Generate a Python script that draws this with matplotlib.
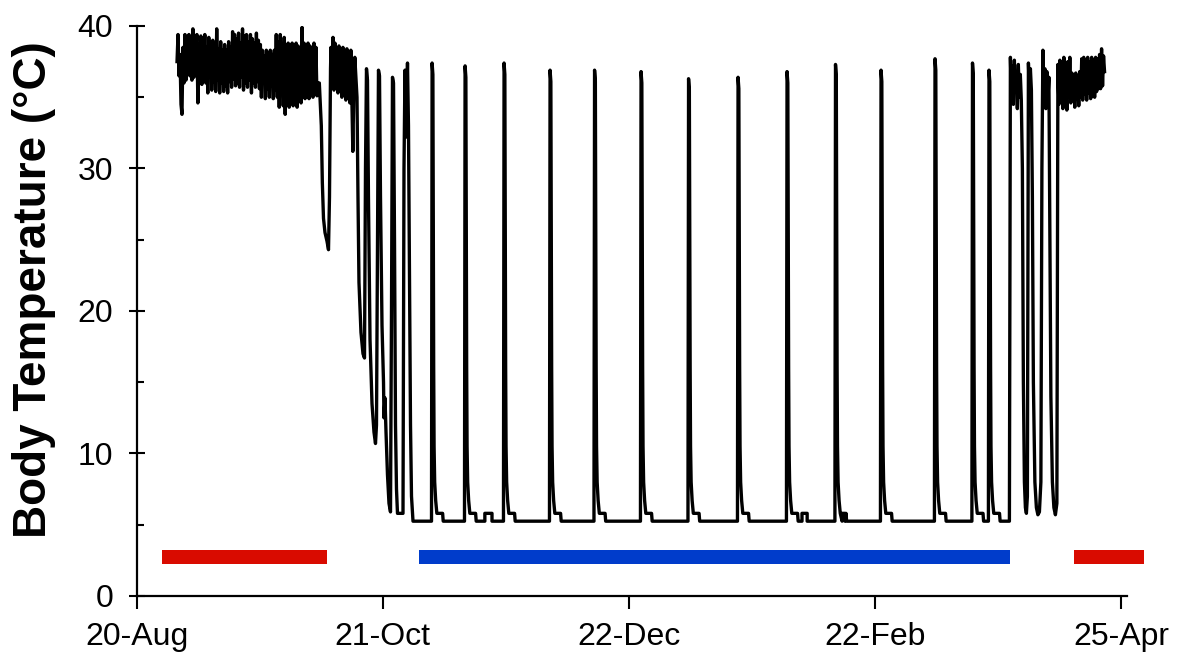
import numpy as np
import matplotlib.pyplot as plt

plt.rcParams['font.family'] = ['Liberation Sans', 'DejaVu Sans']

# x axis = days since 20-Aug
tick_days = [0, 62, 124, 186, 248]
tick_labels = ['20-Aug', '21-Oct', '22-Dec', '22-Feb', '25-Apr']

FLOOR = 5.25      # lowest body temp during torpor
STEP = 0.25       # days between readings in the noisy euthermic parts

# euthermic period, late Aug - early Oct
eu1_start = 10.15
eu1_temp = [37.5, 39.4, 36.5, 38.0, 34.5, 33.8, 38.5, 36.0, 39.4, 36.2, 38.9, 36.8,
            39.4, 36.5, 38.6, 36.2, 39.8, 36.4, 39.1, 37.0, 39.4, 34.6, 38.7, 36.3,
            39.3, 35.9, 38.8, 36.6, 39.4, 36.0, 38.5, 35.3, 39.2, 36.4, 38.9, 35.5,
            39.0, 36.1, 38.6, 35.4, 39.8, 36.2, 38.4, 35.3, 38.9, 36.0, 38.3, 35.4,
            38.7, 35.8, 38.3, 35.3, 38.9, 36.1, 38.5, 35.7, 39.6, 36.3, 39.4, 35.8,
            39.1, 36.0, 39.5, 35.7, 38.8, 36.4, 39.8, 35.5, 39.3, 36.0, 39.4, 35.7,
            38.9, 36.2, 39.4, 35.3, 39.1, 36.0, 38.8, 35.7, 39.5, 36.1, 39.0, 35.6,
            38.7, 35.0, 38.3, 36.0, 37.9, 34.9, 38.3, 35.6, 38.1, 35.0, 38.3, 35.8,
            38.0, 34.9, 38.3, 35.5, 39.4, 35.0, 38.9, 34.3, 39.4, 35.8, 38.6, 34.4,
            39.2, 33.8, 38.7, 35.6, 38.8, 34.3, 38.5, 35.7, 38.8, 34.4, 38.2, 35.2,
            38.8, 34.3, 38.6, 35.5, 38.4, 34.6, 39.9, 35.3, 38.8, 34.9, 38.5, 35.6,
            38.8, 34.9, 38.6, 35.3, 38.3, 35.0, 38.8, 35.4, 38.5, 35.1, 36.0]

# first short drop (test torpor)
dip_day = [46.0, 46.5, 46.76, 47.05, 47.43, 47.93, 48.31, 48.56, 48.82]
dip_temp = [36.0, 33.0, 29.0, 26.5, 25.5, 24.9, 24.3, 28.0, 37.0]

eu2_start = 48.94
eu2_temp = [38.5, 36.0, 39.2, 35.5, 38.8, 36.2, 38.4, 35.3, 38.6, 35.8, 38.3, 35.0,
            38.5, 35.6, 38.2, 34.8, 38.4, 35.3, 38.0, 34.6, 38.3, 35.0, 31.2, 35.5,
            37.8, 36.5]

# first deepening torpor bouts in October
early_day = [55.49, 55.74, 55.99, 56.49, 57.0, 57.38, 57.63, 57.88, 58.13, 58.38,
             58.77, 59.27, 59.77, 60.15, 60.4, 60.65, 60.9, 61.16, 61.41, 61.79,
             62.17, 62.29, 62.54, 62.8, 63.17, 63.55, 63.93, 64.18, 64.43, 64.69,
             64.94, 65.19, 65.44, 65.69, 67.08, 67.33, 67.58, 67.83, 68.21, 68.46,
             68.72, 68.97, 69.22, 69.47, 69.6]
early_temp = [35.0, 28.0, 22.0, 18.5, 17.0, 16.7, 30.0, 37.0, 36.2, 28.0,
              18.0, 13.5, 11.5, 10.7, 12.0, 25.0, 36.9, 36.5, 28.0, 19.0,
              15.0, 12.5, 13.9, 11.5, 8.5, 6.5, 5.9, 20.0, 36.4, 36.0,
              25.0, 12.0, 7.5, 5.8, 5.8, 30.0, 36.9, 32.2, 37.4, 33.0,
              22.0, 12.0, 7.0, 5.8, FLOOR]

# hibernation: periodic arousals from ~5 C
arousal_day = [74.26, 82.57, 92.39, 103.98, 115.19, 126.90, 138.87,
               151.34, 163.68, 175.89, 187.36, 200.96, 210.40, 214.56]
arousal_peak = [37.4, 37.2, 37.4, 36.9, 36.9, 36.8, 36.3,
                36.4, 36.8, 37.3, 36.9, 37.7, 37.4, 36.9]
# shape of one arousal: time after rise (days) and temps after the peak
bout_dt = [0.0, 0.15, 0.35, 0.45, 0.55, 0.65, 0.8, 1.05, 1.35, 2.8, 2.95]
bout_tail = [26.0, 16.0, 10.5, 8.0, 6.7, 5.8, 5.8, FLOOR]

# small bumps on the torpor floor
bump_start = [87.7, 167.6, 177.7]
bump_end = [89.5, 168.9, 178.4]
BUMP_T = 5.8

# end of hibernation, April
late_day = [219.85, 220.1]
late_temp = [FLOOR, 37.8]
late_noise_start = 220.35
late_noise_temp = [35.0, 37.2, 34.5, 37.6, 35.5, 36.8, 34.2, 37.3, 35.0, 36.6, 34.8]
late2_day = [223.12, 223.37, 223.63, 223.88, 224.13, 224.38, 224.64, 224.89, 225.14,
             225.39, 225.64, 225.89, 226.27, 226.65, 227.03, 227.41, 227.78, 228.04,
             228.29, 228.54, 228.79, 229.04, 229.29, 229.55, 229.8, 230.05, 230.3,
             230.68, 231.06, 231.44, 231.81]
late2_temp = [30.0, 15.0, 8.0, 6.2, 5.8, 7.0, 37.4, 35.3, 37.0,
              35.5, 28.0, 15.0, 8.0, 6.2, 5.7, 5.9, 8.0, 30.0,
              38.3, 35.0, 37.0, 34.2, 36.8, 34.8, 36.4, 25.0, 14.0,
              8.0, 6.2, 5.7, 6.5]
eu4_start = 232.07
eu4_temp = [37.3, 34.5, 37.6, 35.0, 37.4, 34.2, 37.8, 35.3, 37.2, 34.1, 37.5, 35.0,
            37.8, 34.6, 36.7, 35.2, 36.6, 34.3, 36.7, 34.9, 36.5, 34.4, 36.8, 35.0,
            37.7, 34.8, 37.8, 35.2, 37.6, 34.8, 37.8, 35.3, 37.5, 34.9, 37.8, 35.1,
            37.6, 35.0, 37.8, 35.4, 37.7, 35.6, 38.0, 35.6, 38.4, 35.8, 37.9, 36.8]

# bars under the trace (euthermic = red, hibernation = blue)
bar_start = [6.37, 71.1, 236.1]
bar_end = [47.93, 220.0, 253.7]
bar_colors = ['#d90b00', '#003ccb', '#d90b00']


def sampled(start, vals):
    return list(start + STEP * np.arange(len(vals))), list(vals)


# arousal bouts + floor bumps, sorted by time
mid_x, mid_y = [], []
for t0, pk in zip(arousal_day, arousal_peak):
    mid_x += [t0 + d for d in bout_dt]
    mid_y += [FLOOR, pk, pk - 0.8] + bout_tail
for s, e in zip(bump_start, bump_end):
    mid_x += [s, s, e, e]
    mid_y += [FLOOR, BUMP_T, BUMP_T, FLOOR]
order = np.argsort(mid_x, kind='stable')
mid_x = list(np.array(mid_x)[order])
mid_y = list(np.array(mid_y)[order])

days, temps = [], []
for x, y in [sampled(eu1_start, eu1_temp), (dip_day, dip_temp),
             sampled(eu2_start, eu2_temp), (early_day, early_temp),
             (mid_x, mid_y), (late_day, late_temp),
             sampled(late_noise_start, late_noise_temp), (late2_day, late2_temp),
             sampled(eu4_start, eu4_temp)]:
    days += list(x)
    temps += list(y)

fig = plt.figure(figsize=(11.89, 6.53), dpi=100)
ax = fig.add_axes([0.115, 0.0873, 0.8326, 0.8729])
ax.plot(days, temps, color='black', lw=2.4)
ax.broken_barh([(s, e - s) for s, e in zip(bar_start, bar_end)], (2.25, 0.98),
               facecolors=bar_colors, clip_on=False)

ax.set_xlim(0, 249.4)
ax.set_ylim(0, 40)
ax.spines['top'].set_visible(False)
ax.spines['right'].set_visible(False)
for s in ['left', 'bottom']:
    ax.spines[s].set_linewidth(1.6)

ax.set_xticks(tick_days)
ax.set_xticklabels(tick_labels)
ax.set_yticks([0, 10, 20, 30, 40])
ax.set_yticks([5, 15, 25, 35], minor=True)
ax.tick_params(axis='y', which='major', direction='inout', length=12, width=1.5,
               labelsize=23, pad=11)
ax.tick_params(axis='y', which='minor', direction='in', length=5, width=1.5)
ax.tick_params(axis='x', which='major', direction='out', length=9, width=1.5,
               labelsize=23, pad=10)

ax.set_ylabel('Body Temperature (°C)', fontsize=33, fontweight='bold')
ax.yaxis.set_label_coords(-0.082, 0.537)

plt.savefig('out.png', dpi=100)
